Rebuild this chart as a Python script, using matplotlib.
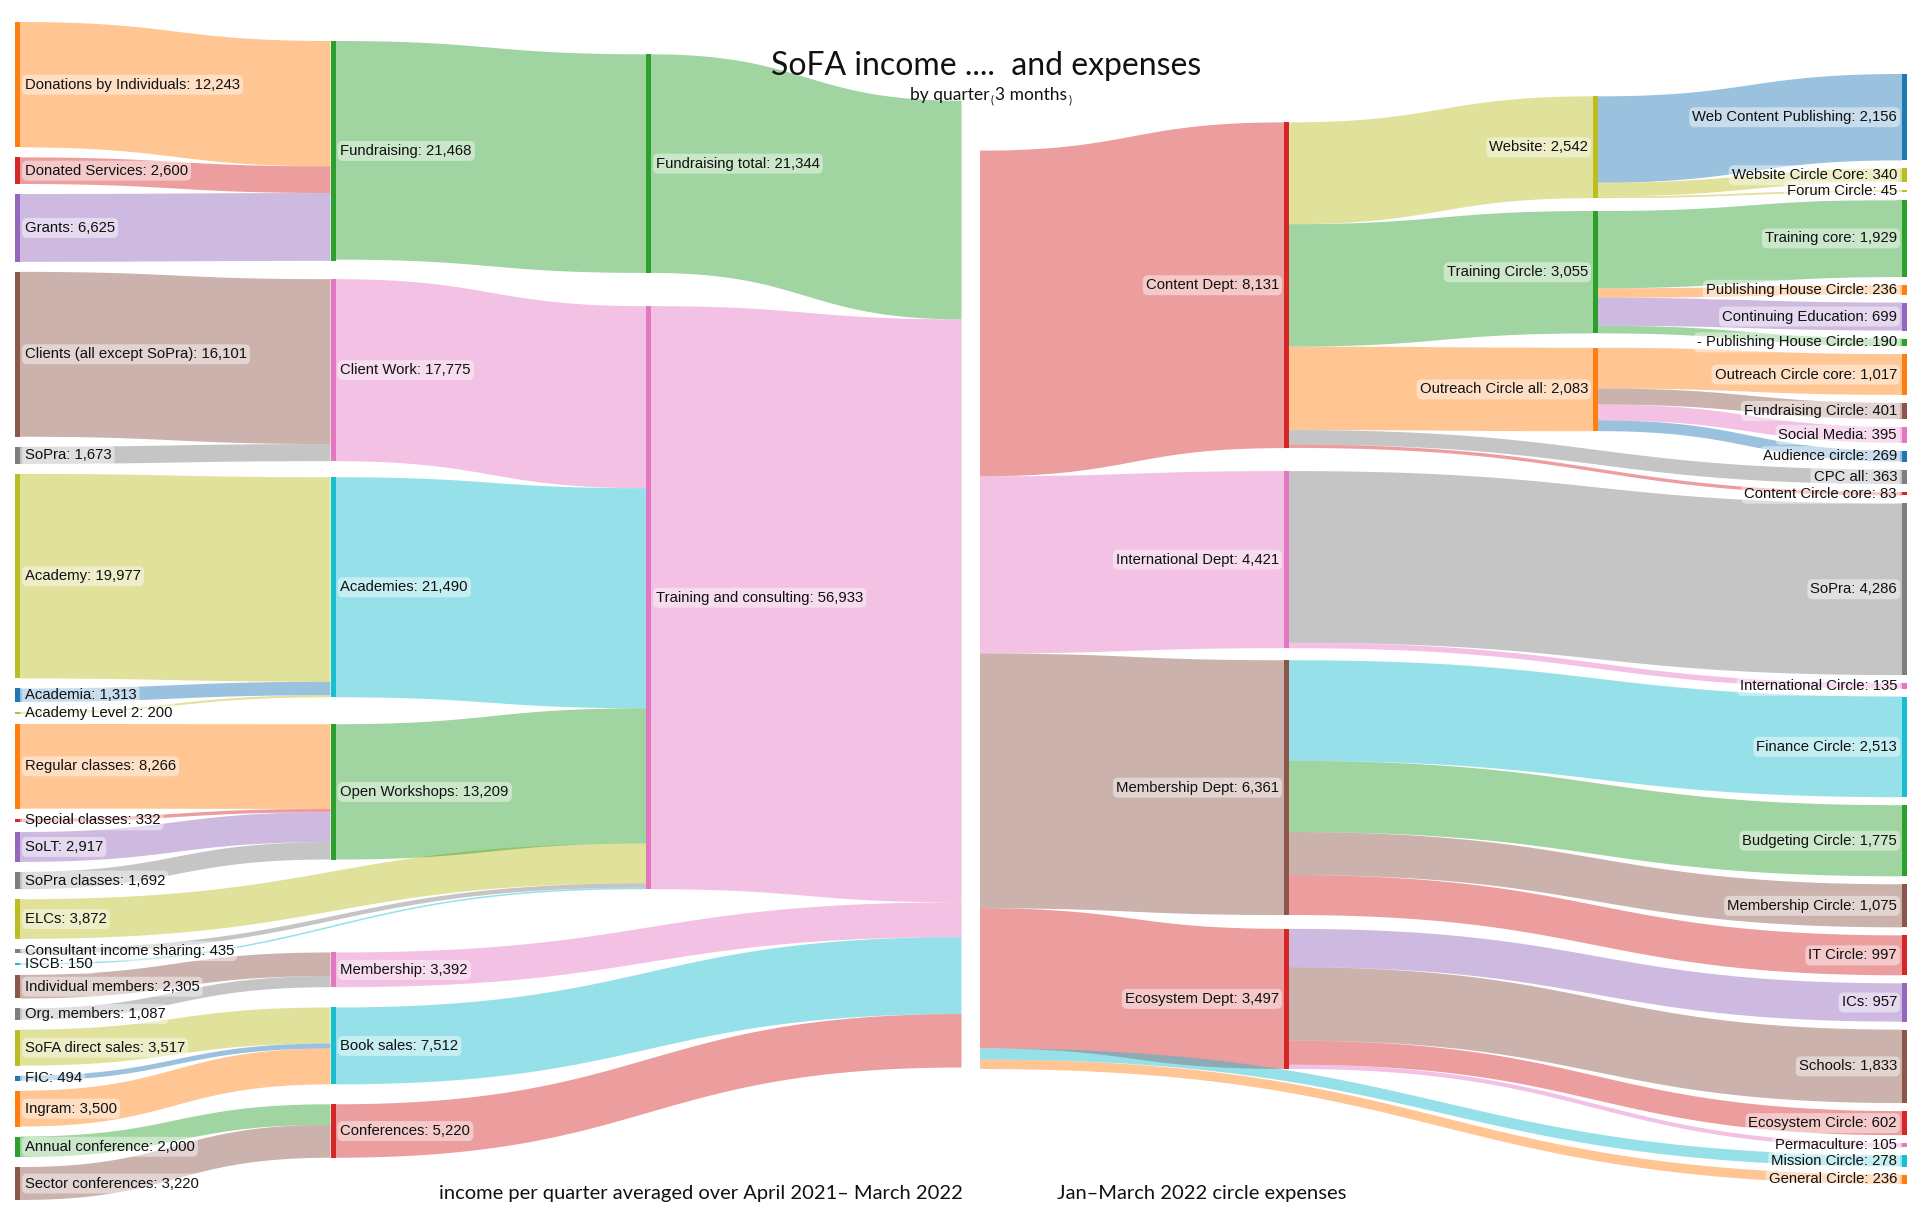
import numpy as np
import matplotlib
matplotlib.use('Agg')
import matplotlib.pyplot as plt

# d3 / plotly category10
BLUE, ORANGE, GREEN, RED, PURPLE = '#1f77b4', '#ff7f0e', '#2ca02c', '#d62728', '#9467bd'
BROWN, PINK, GRAY, OLIVE, CYAN = '#8c564b', '#e377c2', '#7f7f7f', '#bcbd22', '#17becf'

# ---------------- income (left sankey) ----------------
income_nodes = ["Donations by Individuals", "Donated Services", "Grants",
                "Clients (all except SoPra)", "SoPra", "Academy", "Academia",
                "Academy Level 2", "Regular classes", "Special classes", "SoLT",
                "SoPra classes", "ELCs", "Consultant income sharing", "ISCB",
                "Individual members", "Org. members", "SoFA direct sales", "FIC",
                "Ingram", "Annual conference", "Sector conferences",
                "Fundraising", "Client Work", "Academies", "Open Workshops",
                "Membership", "Book sales", "Conferences",
                "Fundraising total", "Training and consulting",
                "income"]
income_colors = [ORANGE, RED, PURPLE, BROWN, GRAY, OLIVE, BLUE, OLIVE, ORANGE, RED,
                 PURPLE, GRAY, OLIVE, GRAY, CYAN, BROWN, GRAY, OLIVE, BLUE, ORANGE,
                 GREEN, BROWN,
                 GREEN, PINK, CYAN, GREEN, PINK, CYAN, RED,
                 GREEN, PINK,
                 None]
income_src = ["Donations by Individuals", "Donated Services", "Grants",
              "Clients (all except SoPra)", "SoPra",
              "Academy", "Academia", "Academy Level 2",
              "Regular classes", "Special classes", "SoLT", "SoPra classes",
              "ELCs", "Consultant income sharing", "ISCB",
              "Individual members", "Org. members",
              "SoFA direct sales", "FIC", "Ingram",
              "Annual conference", "Sector conferences",
              "Fundraising", "Client Work", "Academies", "Open Workshops",
              "Fundraising total", "Training and consulting",
              "Membership", "Book sales", "Conferences"]
income_tgt = (["Fundraising"] * 3 + ["Client Work"] * 2 + ["Academies"] * 3
              + ["Open Workshops"] * 4 + ["Training and consulting"] * 3
              + ["Membership"] * 2 + ["Book sales"] * 3 + ["Conferences"] * 2
              + ["Fundraising total"] + ["Training and consulting"] * 3
              + ["income"] * 5)
income_val = [12243, 2600, 6625,
              16101, 1673,
              19977, 1313, 200,
              8266, 332, 2917, 1692,
              3872, 435, 150,
              2305, 1087,
              3517, 494, 3500,
              2000, 3220,
              21344, 17775, 21490, 13209,
              21344, 56933,
              3392, 7512, 5220]

# ---------------- expenses (right sankey) ----------------
expense_nodes = ["expenses",
                 "Content Dept", "International Dept", "Membership Dept", "Ecosystem Dept",
                 "Website", "Training Circle", "Outreach Circle all",
                 "Web Content Publishing", "Website Circle Core", "Forum Circle",
                 "Training core", "Publishing House Circle", "Continuing Education",
                 "- Publishing House Circle", "Outreach Circle core", "Fundraising Circle",
                 "Social Media", "Audience circle", "CPC all", "Content Circle core",
                 "SoPra", "International Circle", "Finance Circle", "Budgeting Circle",
                 "Membership Circle", "IT Circle", "ICs", "Schools", "Ecosystem Circle",
                 "Permaculture", "Mission Circle", "General Circle"]
expense_colors = [None,
                  RED, PINK, BROWN, RED,
                  OLIVE, GREEN, ORANGE,
                  BLUE, OLIVE, OLIVE,
                  GREEN, ORANGE, PURPLE,
                  GREEN, ORANGE, BROWN,
                  PINK, BLUE, GRAY, RED,
                  GRAY, PINK, CYAN, GREEN,
                  BROWN, RED, PURPLE, BROWN, RED,
                  PINK, CYAN, ORANGE]
expense_src = (["expenses"] * 6 + ["Content Dept"] * 5 + ["Website"] * 3
               + ["Training Circle"] * 4 + ["Outreach Circle all"] * 4
               + ["International Dept"] * 2 + ["Membership Dept"] * 4
               + ["Ecosystem Dept"] * 4)
expense_tgt = ["Content Dept", "International Dept", "Membership Dept", "Ecosystem Dept",
               "Mission Circle", "General Circle",
               "Website", "Training Circle", "Outreach Circle all", "CPC all",
               "Content Circle core",
               "Web Content Publishing", "Website Circle Core", "Forum Circle",
               "Training core", "Publishing House Circle", "Continuing Education",
               "- Publishing House Circle",
               "Outreach Circle core", "Fundraising Circle", "Social Media", "Audience circle",
               "SoPra", "International Circle",
               "Finance Circle", "Budgeting Circle", "Membership Circle", "IT Circle",
               "ICs", "Schools", "Ecosystem Circle", "Permaculture"]
expense_val = [8131, 4421, 6361, 3497, 278, 236,
               2542, 3055, 2083, 363, 83,
               2156, 340, 45,
               1929, 236, 699, 190,
               1017, 401, 395, 269,
               4286, 135,
               2513, 1775, 1075, 997,
               957, 1833, 602, 105]


def sankey_layout(names, src, tgt, vals, x0, x1, y0, y1, nw, py, spread, iterations=50):
    """ d3-sankey style layout (justify alignment), node order kept fixed.
        spread: count node padding when aiming links (d3-sankey 0.12.3 style) """
    n = len(names)
    idx = {nm: i for i, nm in enumerate(names)}
    links = [dict(s=idx[s], t=idx[t], v=v, i=k) for k, (s, t, v) in enumerate(zip(src, tgt, vals))]
    out_l = [[] for _ in range(n)]
    in_l = [[] for _ in range(n)]
    for L in links:
        out_l[L['s']].append(L)
        in_l[L['t']].append(L)
    value = [max(sum(L['v'] for L in in_l[i]), sum(L['v'] for L in out_l[i])) for i in range(n)]

    depth = [0] * n
    current, d = list(range(n)), 0
    while current:
        nxt = []
        for i in current:
            depth[i] = d
            for L in out_l[i]:
                if L['t'] not in nxt:
                    nxt.append(L['t'])
        current, d = nxt, d + 1
    ncol = max(depth) + 1
    layer = [depth[i] if out_l[i] else ncol - 1 for i in range(n)]
    kx = (x1 - x0 - nw) / (ncol - 1)
    nx0 = [x0 + c * kx for c in layer]
    columns = [[i for i in range(n) if layer[i] == c] for c in range(ncol)]
    py = min(py, (y1 - y0) / (max(len(c) for c in columns) - 1))
    ky = min((y1 - y0 - (len(c) - 1) * py) / sum(value[i] for i in c) for c in columns)
    for L in links:
        L['w'] = L['v'] * ky
    sp = py if spread else 0.0

    ny0 = [0.0] * n
    ny1 = [0.0] * n

    def sort_links(i):
        out_l[i].sort(key=lambda L: (ny0[L['t']], L['i']))
        in_l[i].sort(key=lambda L: (ny0[L['s']], L['i']))

    for c in columns:
        y = y0
        for i in c:
            ny0[i] = y
            ny1[i] = y + value[i] * ky
            y = ny1[i] + py
        y = (y1 - y + py) / (len(c) + 1)
        for k, i in enumerate(c):
            ny0[i] += y * (k + 1)
            ny1[i] += y * (k + 1)
        for i in c:
            sort_links(i)

    def reorder_node_links(i):
        for L in in_l[i]:
            out_l[L['s']].sort(key=lambda M: (ny0[M['t']], M['i']))
        for L in out_l[i]:
            in_l[L['t']].sort(key=lambda M: (ny0[M['s']], M['i']))

    def target_top(s, t):
        y = ny0[s] - (len(out_l[s]) - 1) * sp / 2
        for L in out_l[s]:
            if L['t'] == t:
                break
            y += L['w'] + sp
        for L in in_l[t]:
            if L['s'] == s:
                break
            y -= L['w']
        return y

    def source_top(s, t):
        y = ny0[t] - (len(in_l[t]) - 1) * sp / 2
        for L in in_l[t]:
            if L['s'] == s:
                break
            y += L['w'] + sp
        for L in out_l[s]:
            if L['t'] == t:
                break
            y -= L['w']
        return y

    def top_to_bottom(c, y, k, a):
        while k < len(c):
            i = c[k]
            dy = (y - ny0[i]) * a
            if dy > 1e-6:
                ny0[i] += dy
                ny1[i] += dy
            y = ny1[i] + py
            k += 1

    def bottom_to_top(c, y, k, a):
        while k >= 0:
            i = c[k]
            dy = (ny1[i] - y) * a
            if dy > 1e-6:
                ny0[i] -= dy
                ny1[i] -= dy
            y = ny0[i] - py
            k -= 1

    def resolve(c, a):
        k = len(c) >> 1
        sub = c[k]
        bottom_to_top(c, ny0[sub] - py, k - 1, a)
        top_to_bottom(c, ny1[sub] + py, k + 1, a)
        bottom_to_top(c, y1, len(c) - 1, a)
        top_to_bottom(c, y0, 0, a)

    for it in range(iterations):
        alpha = 0.99 ** it
        beta = max(1 - alpha, (it + 1) / iterations)
        for ci in range(ncol - 2, -1, -1):
            c = columns[ci]
            for s in c:
                y = w = 0.0
                for L in out_l[s]:
                    v = L['v'] * (layer[L['t']] - layer[s])
                    y += source_top(s, L['t']) * v
                    w += v
                if w > 0:
                    dy = (y / w - ny0[s]) * alpha
                    ny0[s] += dy
                    ny1[s] += dy
                    reorder_node_links(s)
            resolve(c, beta)
        for ci in range(1, ncol):
            c = columns[ci]
            for t in c:
                y = w = 0.0
                for L in in_l[t]:
                    v = L['v'] * (layer[t] - layer[L['s']])
                    y += target_top(L['s'], t) * v
                    w += v
                if w > 0:
                    dy = (y / w - ny0[t]) * alpha
                    ny0[t] += dy
                    ny1[t] += dy
                    reorder_node_links(t)
            resolve(c, beta)

    for i in range(n):
        y = ny0[i]
        for L in out_l[i]:
            L['sy'] = y
            y += L['w']
        y = ny0[i]
        for L in in_l[i]:
            L['ty'] = y
            y += L['w']
    return nx0, ny0, ny1, value, links


def draw_sankey(ax, names, colors, src, tgt, vals, extent, nw, pad, spread, link_by, label_left):
    x0, x1, y0, y1 = extent
    nx0, ny0, ny1, value, links = sankey_layout(names, src, tgt, vals, x0, x1, y0, y1,
                                                nw, pad, spread)
    t = np.linspace(0, 1, 60)
    for L in links:
        xs, xt = nx0[L['s']] + nw, nx0[L['t']]
        xm = (xs + xt) / 2
        bx = (1 - t)**3 * xs + 3 * (1 - t)**2 * t * xm + 3 * (1 - t) * t**2 * xm + t**3 * xt
        by = lambda a, b: (1 - t)**3 * a + 3 * (1 - t)**2 * t * a + 3 * (1 - t) * t**2 * b + t**3 * b
        top = by(L['sy'], L['ty'])
        bot = by(L['sy'] + L['w'], L['ty'] + L['w'])
        c = colors[L['s']] if link_by == 'source' else colors[L['t']]
        ax.fill(np.r_[bx, bx[::-1]], np.r_[top, bot[::-1]], color=c, alpha=0.45, lw=0, zorder=1)
    for i, nm in enumerate(names):
        if colors[i] is None:
            continue
        ax.add_patch(plt.Rectangle((nx0[i], ny0[i]), nw, ny1[i] - ny0[i],
                                   color=colors[i], lw=0, zorder=2))
        yc = (ny0[i] + ny1[i]) / 2
        if label_left:
            xl, ha = nx0[i] - 5, 'right'
        else:
            xl, ha = nx0[i] + nw + 5, 'left'
        ax.text(xl, yc, f"{nm}: {value[i]:,}", ha=ha, va='center', fontsize=10.7,
                family=['Liberation Sans Narrow', 'Liberation Sans'], color='#111111', zorder=3,
                bbox=dict(boxstyle='round,pad=0.2,rounding_size=0.35', fc=(1, 1, 1, 0.45), ec='none'))


fig = plt.figure(figsize=(19.2, 12.32), dpi=100)
ax = fig.add_axes([0, 0, 1, 1])
ax.set_xlim(0, 1920)
ax.set_ylim(1232, 0)
ax.axis('off')

draw_sankey(ax, income_nodes, income_colors, income_src, income_tgt, income_val,
            (15, 966.5, 22, 1200), 5, 10, False, 'source', False)
draw_sankey(ax, expense_nodes, expense_colors, expense_src, expense_tgt, expense_val,
            (975, 1907, 74, 1184), 5, 8, True, 'target', True)

title_font = ['Lato', 'DejaVu Sans']
ax.text(986, 66, "SoFA income ....  and expenses", ha='center', va='center',
        fontsize=23, family=title_font, color='#111111')
sub = ax.annotate("by quarter", xy=(910, 100), ha='left', va='baseline',
                  fontsize=12.5, family=title_font, color='#111111')
p1 = ax.annotate("(", xy=(1, 0), xycoords=sub, xytext=(1, -2), textcoords='offset points',
                 ha='left', va='bottom', fontsize=8, family=title_font, color='#111111')
mid = ax.annotate("3 months", xy=(1, 0), xycoords=p1, xytext=(1, 2), textcoords='offset points',
                  ha='left', va='bottom', fontsize=12.5, family=title_font, color='#111111')
ax.annotate(")", xy=(1, 0), xycoords=mid, xytext=(1, -2), textcoords='offset points',
            ha='left', va='bottom', fontsize=8, family=title_font, color='#111111')

ax.text(701, 1193, "income per quarter averaged over April 2021\u2013 March 2022", ha='center',
        va='center', fontsize=14.5, family=title_font, color='#111111')
ax.text(1202, 1193, "Jan\u2013March 2022 circle expenses", ha='center', va='center',
        fontsize=14.5, family=title_font, color='#111111')

fig.savefig('out.png', dpi=100, facecolor='white')
